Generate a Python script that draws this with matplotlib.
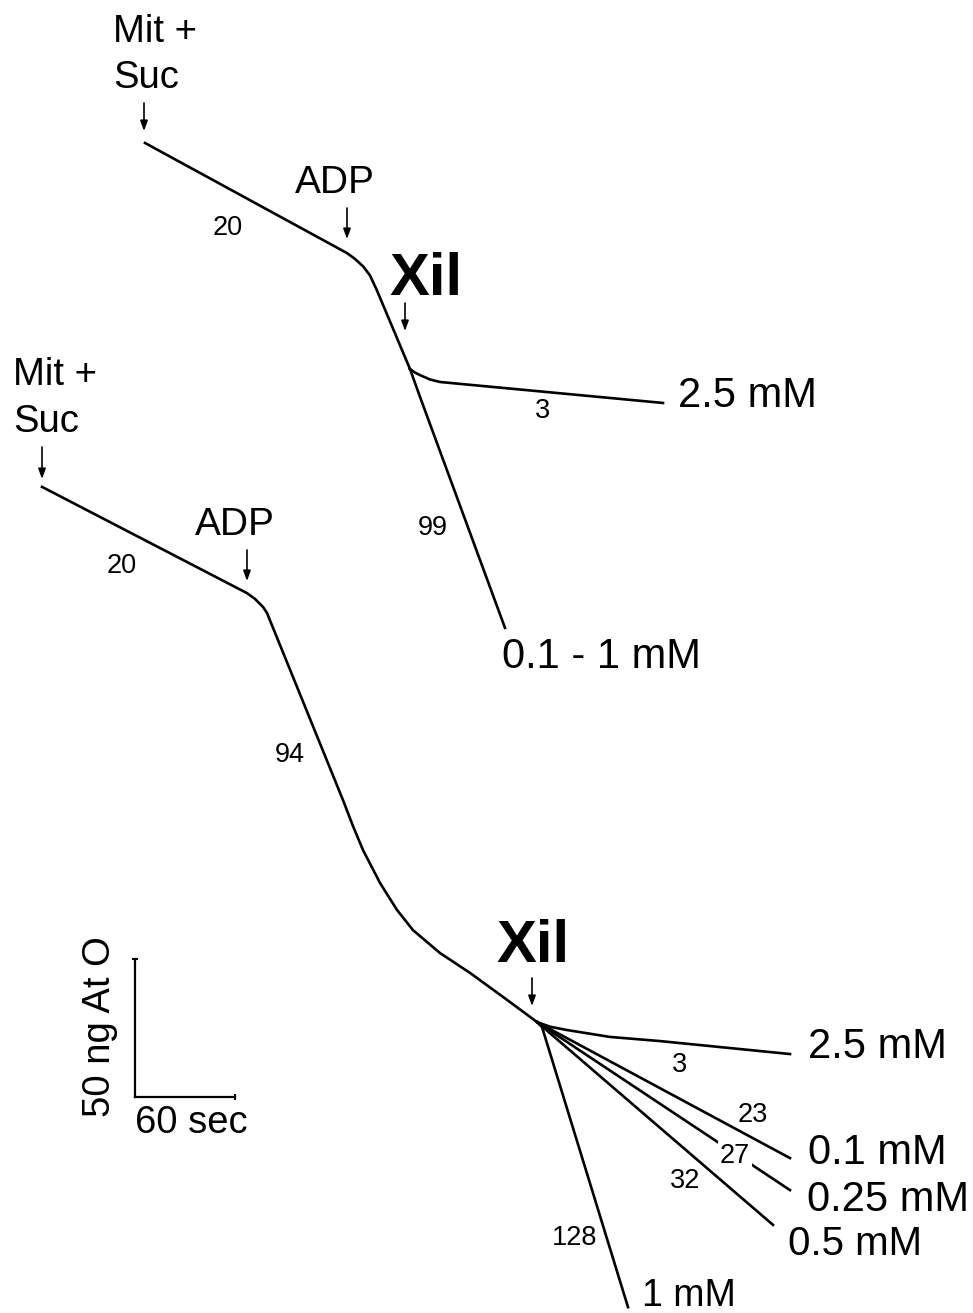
import matplotlib
matplotlib.use("Agg")
import matplotlib.pyplot as plt

# Oxygen electrode traces, time in s, O2 consumed in ng At O
# upper experiment
top_t = [87.0, 208.2, 213.0, 218.0, 222.0, 226.0, 241.2, 246.0]
top_o = [51.8, 91.7, 93.8, 96.6, 99.8, 105.0, 126.8, 133.7]
top_25_t = [246.0, 249.0, 252.0, 258.0, 264.0, 397.8]          # Xil 2.5 mM
top_25_o = [133.7, 135.0, 135.9, 137.5, 138.4, 146.0]
top_01_t = [246.0, 252.0, 303.0]                 # Xil 0.1 - 1 mM
top_01_o = [133.7, 143.8, 227.5]

# lower experiment
bot_t = [25.2, 148.2, 153.0, 157.8, 160.2, 205.8, 211.8, 217.8, 228.0, 238.2,
         247.8, 264.0, 282.0, 301.8, 322.2]
bot_o = [176.4, 214.9, 217.0, 219.9, 222.1, 289.9, 299.3, 308.0, 319.9, 329.7,
         337.0, 345.3, 352.5, 361.2, 370.3]
branches = {
    "2.5 mM": ([322.2, 330.0, 340.2, 366.0, 396.0, 474.0], [370.3, 372.0, 373.2, 375.7, 377.2, 381.9]),
    "0.1 mM": ([322.2, 474.0], [370.3, 419.6]),
    "0.25 mM": ([322.2, 474.0], [370.3, 431.2]),
    "0.5 mM": ([322.2, 463.8], [370.3, 443.8]),
    "1 mM": ([322.2, 325.2, 376.8], [370.3, 372.1, 473.6]),
}

# scale bar: 60 s, 50 ng At O
SCALE_T = 60
SCALE_O = 50

W, H = 973, 1313
plt.rcParams['font.family'] = ['Liberation Sans', 'DejaVu Sans']

fig = plt.figure(figsize=(W / 100, H / 100), dpi=100)
ax = fig.add_axes([0, 0, 1, 1])
ax.set_xlim(0, W * 0.6)
ax.set_ylim(H / 2.76, 0)
ax.axis('off')

LW = 1.9
ax.plot(top_t, top_o, color='k', lw=LW)
ax.plot(top_25_t, top_25_o, color='k', lw=LW)
ax.plot(top_01_t, top_01_o, color='k', lw=LW)
ax.plot(bot_t, bot_o, color='k', lw=LW)
for name, (t, o) in branches.items():
    ax.plot(t, o, color='k', lw=LW)

# scale bar
t0, o0 = 81, 397.5
ax.plot([t0, t0], [o0, o0 - SCALE_O], color='k', lw=1.6)
ax.plot([t0, t0 + SCALE_T], [o0, o0], color='k', lw=1.6)
ax.plot([t0], [o0 - SCALE_O], marker='_', color='k', ms=5, mew=1.5)
ax.plot([t0 + SCALE_T], [o0], marker='|', color='k', ms=5, mew=1.5)


def fp(x, y):
    # figure pixels, measured from the top
    return (x, H - y)


def label(x, y, s, size=27.5, **kw):
    fig.text(x / W, 1 - y / H, s, fontsize=size, va='baseline', **kw)


def arrow(x, y0, y1):
    ax.annotate('', xy=fp(x, y1), xytext=fp(x, y0), xycoords='figure pixels',
                arrowprops=dict(arrowstyle='-|>,head_length=0.6,head_width=0.22',
                                color='k', lw=1.2, mutation_scale=10,
                                shrinkA=0, shrinkB=0))


CONC = 30

# upper trace labels
label(113, 42, 'Mit +')
label(113, 88, 'Suc')
arrow(144, 103, 131)
label(295, 193, 'ADP', size=28)
arrow(347, 208, 239)
label(389, 295, 'Xil', size=43, fontweight='bold')
arrow(405, 303, 331)
label(678, 407, '2.5 mM', size=CONC)
label(502, 668, '0.1 - 1 mM', size=CONC)

# lower trace labels
label(13, 385, 'Mit +')
label(13, 432, 'Suc')
arrow(42, 447, 479)
label(195, 535, 'ADP', size=28)
arrow(247, 550, 581)
label(496, 962, 'Xil', size=43, fontweight='bold')
arrow(532, 978, 1006)
label(808, 1058, '2.5 mM', size=CONC)
label(808, 1164, '0.1 mM', size=CONC)
label(807, 1211, '0.25 mM', size=CONC)
label(788, 1255, '0.5 mM', size=29)
label(642, 1306, '1 mM', size=27)

# rates (ng At O / min)
rates = [('20', 228, 235), ('3', 543, 418), ('99', 433, 535), ('20', 122, 573),
         ('94', 290, 762), ('3', 680, 1072), ('23', 753, 1122), ('32', 685, 1188),
         ('128', 575, 1245)]
for s, x, y in rates:
    label(x, y, s, size=19.5, ha='center')
label(735, 1163, '27', size=19.5, ha='center',
      bbox=dict(facecolor='white', edgecolor='none', pad=1.5), zorder=5)

# scale bar text
label(135, 1133, '60 sec')
fig.text(100 / W, 1 - 1027 / H, '50 ng At O', fontsize=27.5, rotation=90,
         ha='center', va='center')

fig.savefig('out.png', dpi=100, facecolor='white')
